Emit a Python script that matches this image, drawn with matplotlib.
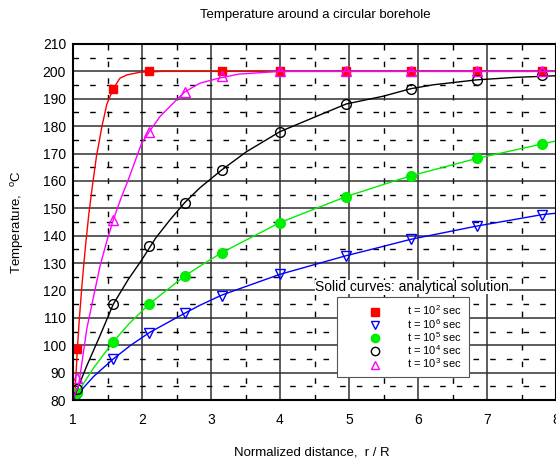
import matplotlib
matplotlib.use("Agg")
import matplotlib.pyplot as plt
from matplotlib.lines import Line2D

plt.rcParams['font.family'] = ['Liberation Sans', 'DejaVu Sans']
plt.rcParams['mathtext.fontset'] = 'custom'
plt.rcParams['mathtext.rm'] = 'Liberation Sans'
plt.rcParams['mathtext.it'] = 'Liberation Sans:italic'

# marker positions (numerical solution)
r_mk = [1.063, 1.584, 2.106, 2.62, 3.155, 4.0, 4.96, 5.9, 6.85, 7.8]
r_mk_red = [1.063, 1.584, 2.106, 3.155, 4.0, 4.96, 5.9, 6.85, 7.8]
T_mk_t2 = [98.6, 193.7, 200, 200, 200, 200, 200, 200, 200]
T_mk_t6 = [81.0, 95.0, 104.6, 111.7, 118.0, 125.9, 132.7, 138.7, 143.5, 147.7]
T_mk_t5 = [82.5, 101.3, 115.1, 125.3, 133.8, 144.8, 154.3, 161.9, 168.2, 173.5]
T_mk_t4 = [84.0, 115.0, 136.2, 152.1, 164.0, 178.0, 188.1, 193.7, 196.9, 198.5]
T_mk_t3 = [87.9, 145.8, 178.0, 192.5, 198.4, 200, 200, 200, 200, 200]

# analytical curves
r_t2 = [1.0, 1.03, 1.063, 1.09, 1.13, 1.18, 1.23, 1.28, 1.34, 1.42, 1.49,
        1.584, 1.68, 1.78, 1.97, 2.3, 8.0]
T_t2 = [80, 83, 98.6, 109, 122, 136, 148, 158, 169, 180, 188,
        193.7, 197.5, 198.7, 199.7, 200, 200]
r_t3 = [1.0, 1.04, 1.077, 1.10, 1.20, 1.30, 1.39, 1.49, 1.584, 1.70, 1.80,
        1.995, 2.106, 2.26, 2.50, 2.62, 2.84, 3.08, 3.4, 4.0, 8.0]
T_t3 = [80, 83, 85, 88.5, 106, 118, 128.7, 138, 145.8, 154, 160.3,
        173.8, 178, 183.5, 189.6, 192.5, 195.7, 197.3, 199, 200, 200]
r_t4 = [1.0, 1.063, 1.2, 1.4, 1.584, 1.8, 1.995, 2.2, 2.406, 2.62, 2.84,
        3.155, 3.51, 4.0, 4.53, 4.96, 5.49, 5.9, 6.22, 6.85, 7.4, 8.0]
T_t4 = [80, 84, 92.5, 104, 115, 124, 131.1, 139.2, 145.8, 152.1, 157.5,
        164, 170.6, 178, 183.6, 188.1, 190.9, 193.7, 195.1, 196.9, 197.8, 198.4]
r_t5 = [1.0, 1.063, 1.295, 1.584, 1.73, 1.826, 2.106, 2.62, 2.84, 3.155,
        4.0, 4.96, 5.45, 5.9, 6.85, 7.8, 8.0]
T_t5 = [80, 82.5, 91.6, 101.3, 105.5, 108.2, 115.1, 125.3, 128.9, 133.8,
        144.8, 154.3, 158.3, 161.9, 168.2, 173.5, 174.6]
r_t6 = [1.0, 1.063, 1.10, 1.295, 1.584, 1.826, 2.106, 2.62, 2.84, 3.155,
        4.0, 4.96, 5.45, 5.9, 6.85, 7.8, 8.0]
T_t6 = [80, 81.5, 83, 88.5, 95.0, 99.8, 104.6, 111.7, 114.6, 118.3,
        125.9, 132.7, 135.8, 138.7, 143.5, 147.7, 148.2]

x_ticks = [1, 2, 3, 4, 5, 6, 7, 8]
y_ticks = list(range(80, 211, 10))

fig = plt.figure(figsize=(5.56, 4.61), dpi=100)
ax = fig.add_axes([73 / 556, 61 / 461, 483 / 556, 356 / 461])

# curves + markers
ax.plot(r_t2, T_t2, color='#ff0000', lw=1)
ax.plot(r_mk_red, T_mk_t2, 's', color='#ff0000', ms=6, mec='#ff0000')
ax.plot(r_t6, T_t6, color='#0000ff', lw=1)
ax.plot(r_mk, T_mk_t6, 'v', mfc='none', mec='#0000ff', ms=7, mew=1)
ax.plot(r_t5, T_t5, color='#00ee00', lw=1)
ax.plot(r_mk, T_mk_t5, 'o', color='#00ee00', ms=7)
ax.plot(r_t4, T_t4, color='k', lw=1)
ax.plot(r_mk, T_mk_t4, 'o', mfc='none', mec='k', ms=7, mew=1)
ax.plot(r_t3, T_t3, color='#ff00ff', lw=1)
ax.plot(r_mk, T_mk_t3, '^', mfc='none', mec='#ff00ff', ms=7, mew=1)

ax.set_xlim(1, 8)
ax.set_ylim(80, 210)
ax.set_xticks(x_ticks)
ax.set_yticks(y_ticks)
ax.set_xticks([x + 0.5 for x in x_ticks[:-1]], minor=True)
ax.set_yticks([y + 5 for y in y_ticks[:-1]], minor=True)
ax.grid(which='major', color='#303030', lw=1.1, ls='-')
ax.grid(which='minor', color='k', lw=1, ls=(0, (4, 8)))
ax.set_axisbelow(True)
ax.tick_params(which='both', length=0, labelsize=10)
ax.tick_params(axis='x', pad=9)
ax.tick_params(axis='y', pad=5)
for s in ax.spines.values():
    s.set_linewidth(1.5)

fig.text(315 / 556, 1 - 15 / 461, 'Temperature around a circular borehole',
         ha='center', va='center', fontsize=9.5)
fig.text(312 / 556, 1 - 452 / 461, 'Normalized distance,  r / R',
         ha='center', va='center', fontsize=9.5)
fig.text(18 / 556, 1 - 222 / 461, r'Temperature,  $\mathregular{^o}$C',
         ha='center', va='center', rotation=90, fontsize=9.5)

# legend
ax.text(315 / 556, 1 - 287 / 461, 'Solid curves: analytical solution',
        transform=fig.transFigure, ha='left', va='center', fontsize=10,
        bbox=dict(facecolor='white', edgecolor='none', pad=0), zorder=5)
handles = [
    Line2D([], [], ls='none', marker='s', color='#ff0000', ms=6),
    Line2D([], [], ls='none', marker='v', mfc='none', mec='#0000ff', ms=6),
    Line2D([], [], ls='none', marker='o', color='#00ee00', ms=6),
    Line2D([], [], ls='none', marker='o', mfc='none', mec='k', ms=6),
    Line2D([], [], ls='none', marker='^', mfc='none', mec='#ff00ff', ms=6),
]
labels = [r't = 10$\mathregular{^2}$ sec', r't = 10$\mathregular{^6}$ sec',
          r't = 10$\mathregular{^5}$ sec', r't = 10$\mathregular{^4}$ sec',
          r't = 10$\mathregular{^3}$ sec']
leg = ax.legend(handles, labels, loc='upper left',
                bbox_to_anchor=(337 / 556, 1 - 297 / 461),
                bbox_transform=fig.transFigure, borderaxespad=0,
                fontsize=8, handlelength=5.6, handletextpad=0.1,
                labelspacing=-0.05, borderpad=0.6, fancybox=False,
                framealpha=1, edgecolor='#555555')
leg.get_frame().set_linewidth(0.8)

fig.savefig('out.png', dpi=100)
